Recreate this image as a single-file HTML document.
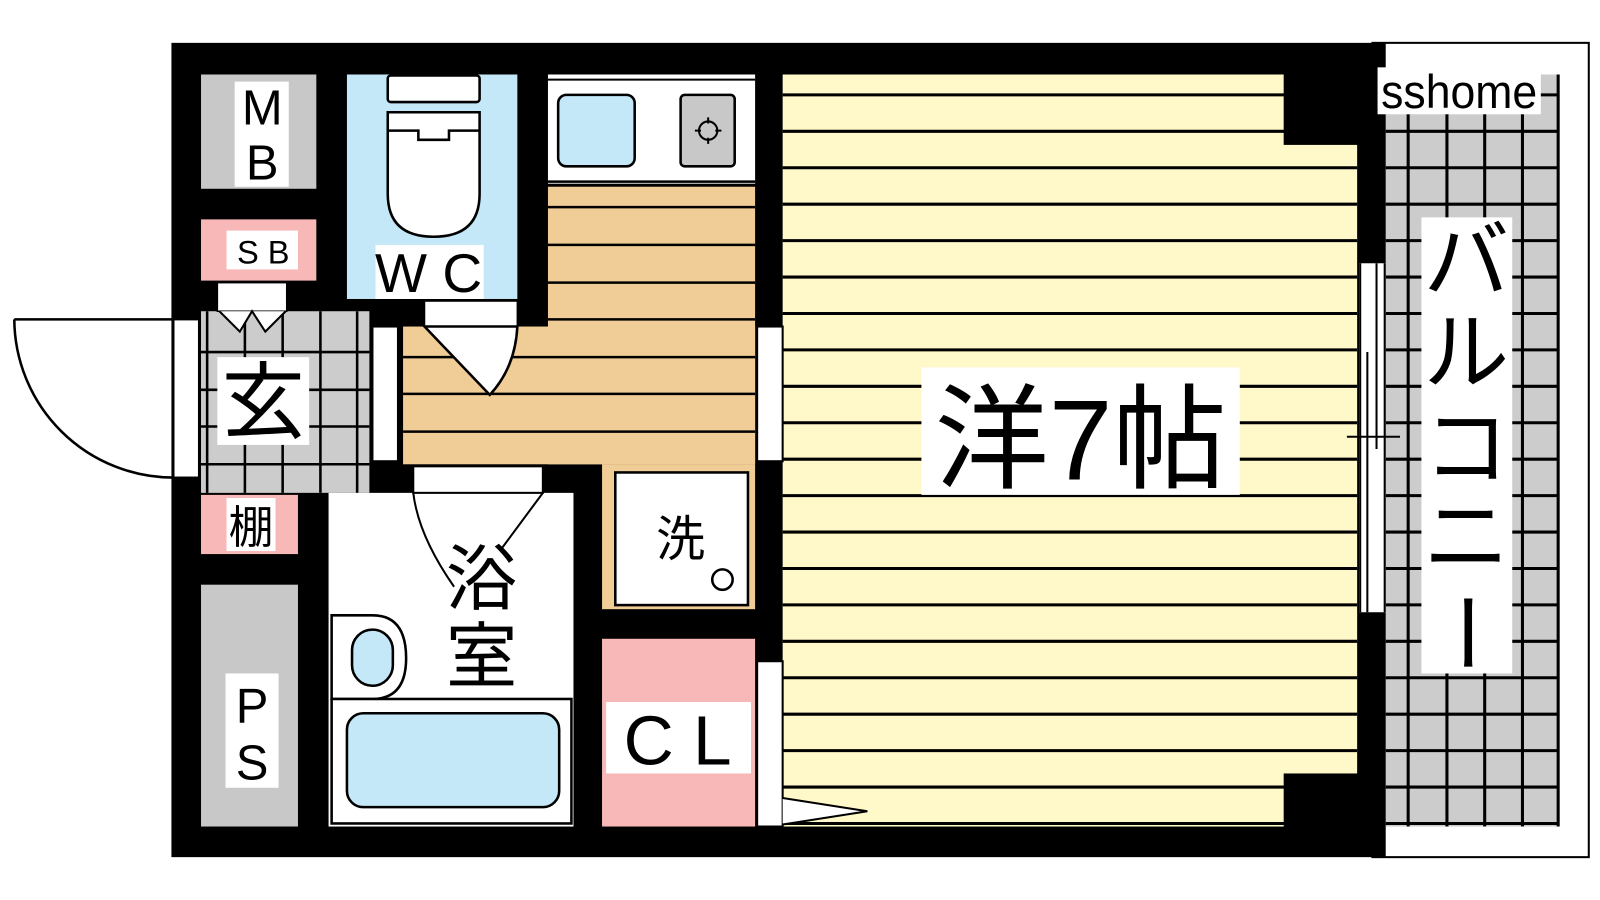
<!DOCTYPE html>
<html><head><meta charset="utf-8"><style>
html,body{margin:0;padding:0;background:#fff;width:1600px;height:900px;overflow:hidden}
svg text{font-family:"Liberation Sans","Noto Sans CJK JP",sans-serif;fill:#000}
</style></head><body>
<svg width="1600" height="900" viewBox="0 0 1568 882" xmlns="http://www.w3.org/2000/svg">
<!-- balcony -->
<rect x="1345" y="42" width="212" height="798" fill="#fff" stroke="#000" stroke-width="2"/>
<rect x="1358" y="73" width="170" height="737" fill="#cccccc"/>
<g stroke="#000" stroke-width="3">
<line x1="1380" y1="73" x2="1380" y2="810"/><line x1="1418" y1="73" x2="1418" y2="810"/>
<line x1="1455" y1="73" x2="1455" y2="810"/><line x1="1492" y1="73" x2="1492" y2="810"/>
<line x1="1527" y1="73" x2="1527" y2="810"/>
</g>
<g stroke="#000" stroke-width="3" id="bl"></g>
<!-- outer wall -->
<rect x="168" y="42" width="1190" height="798" fill="#000"/>
<!-- main room -->
<rect x="767" y="73" width="563" height="737" fill="#fff8c8"/>
<g stroke="#000" stroke-width="3" id="rl"></g>
<rect x="1258" y="60" width="74" height="82" fill="#000"/>
<rect x="1258" y="758" width="74" height="60" fill="#000"/>
<!-- window -->
<rect x="1332" y="258" width="26" height="342" fill="#fff"/>
<g stroke="#000" stroke-width="2">
<line x1="1333" y1="258" x2="1333" y2="600"/><line x1="1357" y1="258" x2="1357" y2="600"/>
<line x1="1340" y1="345" x2="1340" y2="600"/><line x1="1349" y1="258" x2="1349" y2="440"/>
<line x1="1320" y1="428" x2="1372" y2="428"/>
</g>
<!-- MB -->
<rect x="197" y="73" width="113" height="112" fill="#c8c8c8"/>
<rect x="230" y="80" width="53" height="103" fill="#fff"/>
<text x="257" y="122" font-size="48" text-anchor="middle">M</text>
<text x="257" y="176" font-size="48" text-anchor="middle">B</text>
<!-- SB -->
<rect x="197" y="215" width="113" height="60" fill="#f8b8b8"/>
<rect x="222" y="226" width="70" height="38" fill="#fff"/>
<text x="258" y="258" font-size="32" text-anchor="middle">S B</text>
<!-- genkan -->
<rect x="197" y="305" width="165" height="178" fill="#cccccc"/>
<g stroke="#000" stroke-width="2.5">
<line x1="203" y1="305" x2="203" y2="483"/><line x1="240" y1="305" x2="240" y2="483"/>
<line x1="277" y1="305" x2="277" y2="483"/><line x1="314" y1="305" x2="314" y2="483"/>
<line x1="350" y1="305" x2="350" y2="483"/>
<line x1="197" y1="345" x2="362" y2="345"/><line x1="197" y1="382" x2="362" y2="382"/>
<line x1="197" y1="418" x2="362" y2="418"/><line x1="197" y1="455" x2="362" y2="455"/>
</g>
<rect x="213" y="277" width="68" height="28" fill="#fff" stroke="#000" stroke-width="1.5"/>
<path d="M215 305 L235 325 L247 305 L260 325 L280 305" fill="#fff" stroke="#000" stroke-width="2"/>
<rect x="213" y="350" width="90" height="86" fill="#fff"/>
<text x="258" y="423" font-size="82" text-anchor="middle">玄</text>
<!-- entrance door -->
<rect x="170" y="313" width="25" height="155" fill="#fff" stroke="#000" stroke-width="2"/>
<path d="M14 313 L170 313 M14 313 A156 156 0 0 0 170 468" fill="none" stroke="#000" stroke-width="2.5"/>
<!-- 棚 -->
<rect x="197" y="485" width="95" height="58" fill="#f8b8b8"/>
<rect x="222" y="488" width="48" height="52" fill="#fff"/>
<text x="246" y="532" font-size="44" text-anchor="middle">棚</text>
<!-- PS -->
<rect x="197" y="573" width="95" height="237" fill="#c8c8c8"/>
<rect x="221" y="660" width="52" height="112" fill="#fff"/>
<text x="247" y="708" font-size="48" text-anchor="middle">P</text>
<text x="247" y="764" font-size="48" text-anchor="middle">S</text>
<!-- WC -->
<rect x="340" y="73" width="167" height="220" fill="#c4e8f8"/>
<rect x="380" y="74" width="90" height="26" rx="3" fill="#fff" stroke="#000" stroke-width="2.5"/>
<path d="M380 110 L470 110 L470 190 Q470 232 425 232 Q380 232 380 190 Z" fill="#fff" stroke="#000" stroke-width="2.5"/>
<path d="M380 128 L410 128 L410 137 L440 137 L440 128 L470 128" fill="none" stroke="#000" stroke-width="2.5"/>
<rect x="368" y="240" width="106" height="53" fill="#fff"/>
<text x="420" y="286" font-size="54" text-anchor="middle">W C</text>
<!-- kitchen counter -->
<rect x="537" y="73" width="203" height="107" fill="#fff"/>
<line x1="537" y1="78" x2="740" y2="78" stroke="#000" stroke-width="2"/>
<line x1="537" y1="178" x2="740" y2="178" stroke="#000" stroke-width="2.5"/>
<rect x="547" y="93" width="75" height="70" rx="8" fill="#c4e8f8" stroke="#000" stroke-width="2.5"/>
<rect x="667" y="93" width="53" height="70" rx="4" fill="#c8c8c8" stroke="#000" stroke-width="2.5"/>
<circle cx="694" cy="128" r="9" fill="none" stroke="#000" stroke-width="2"/>
<path d="M694 115v6M694 135v6M681 128h6M701 128h6" stroke="#000" stroke-width="2"/>
<!-- kitchen floor -->
<rect x="537" y="183" width="203" height="272" fill="#f0cc96"/>
<rect x="395" y="320" width="345" height="135" fill="#f0cc96"/>
<g stroke="#000" stroke-width="2.5">
<line x1="537" y1="203" x2="740" y2="203"/><line x1="537" y1="240" x2="740" y2="240"/>
<line x1="537" y1="277" x2="740" y2="277"/><line x1="537" y1="313" x2="740" y2="313"/>
<line x1="395" y1="350" x2="740" y2="350"/><line x1="395" y1="386" x2="740" y2="386"/>
<line x1="395" y1="423" x2="740" y2="423"/>
</g>
<!-- wc door -->
<rect x="416" y="295" width="91" height="25" fill="#fff" stroke="#000" stroke-width="1.5"/>
<path d="M416 320 L480 387 Q505 360 507 320 Z" fill="#fff" stroke="#000" stroke-width="2.5"/>
<!-- strips -->
<rect x="365" y="320" width="25" height="132" fill="#fff" stroke="#000" stroke-width="2"/>
<rect x="742" y="320" width="25" height="132" fill="#fff" stroke="#000" stroke-width="2"/>
<!-- bath -->
<rect x="322" y="483" width="240" height="327" fill="#fff"/>
<rect x="405" y="457" width="127" height="26" fill="#fff" stroke="#000" stroke-width="2"/>
<path d="M532 483 L492 537 M405 483 Q410 525 445 575" fill="none" stroke="#000" stroke-width="2"/>
<path d="M325 603 L365 603 Q398 603 398 645 Q398 685 365 685 L325 685 Z" fill="#fff" stroke="#000" stroke-width="2.5"/>
<rect x="345" y="617" width="40" height="55" rx="20" fill="#c4e8f8" stroke="#000" stroke-width="2.5"/>
<rect x="325" y="685" width="235" height="122" fill="#fff" stroke="#000" stroke-width="2.5"/>
<rect x="340" y="699" width="208" height="92" rx="16" fill="#c4e8f8" stroke="#000" stroke-width="2.5"/>
<text x="472" y="592" font-size="70" text-anchor="middle">浴</text>
<text x="472" y="668" font-size="70" text-anchor="middle">室</text>
<!-- washer -->
<rect x="590" y="455" width="150" height="142" fill="#f0cc96"/>
<rect x="603" y="463" width="130" height="130" fill="#fff" stroke="#000" stroke-width="2.5"/>
<text x="667" y="545" font-size="48" text-anchor="middle">洗</text>
<circle cx="708" cy="568" r="10" fill="none" stroke="#000" stroke-width="2.5"/>
<!-- CL -->
<rect x="590" y="626" width="150" height="184" fill="#f8b8b8"/>
<rect x="594" y="688" width="142" height="70" fill="#fff"/>
<text x="664" y="749" font-size="68" text-anchor="middle">C L</text>
<rect x="742" y="648" width="25" height="162" fill="#fff" stroke="#000" stroke-width="2"/>
<path d="M767 782 L850 795 L767 808" fill="#fff" stroke="#000" stroke-width="2"/>
<!-- room label -->
<rect x="903" y="360" width="312" height="125" fill="#fff"/>
<text x="1059" y="470" font-size="112" text-anchor="middle">洋7帖</text>
<!-- balcony labels -->
<rect x="1350" y="66" width="160" height="46" fill="#fff"/>
<text x="1430" y="106" font-size="46" text-anchor="middle" transform="translate(1430 0) scale(0.95 1) translate(-1430 0)">sshome</text>
<rect x="1393" y="213" width="89" height="447" fill="#fff"/>
<text x="1437" y="285" font-size="84" text-anchor="middle">バ</text>
<text x="1437" y="375" font-size="84" text-anchor="middle">ル</text>
<text x="1437" y="468" font-size="84" text-anchor="middle">コ</text>
<text x="1437" y="555" font-size="84" text-anchor="middle">ニ</text>
<text x="0" y="0" font-size="84" text-anchor="middle" transform="translate(1437 620) rotate(90) translate(0 30)">ー</text>
</svg>
<script>
(function(){
var ns="http://www.w3.org/2000/svg";
var rl=document.getElementById("rl"),bl=document.getElementById("bl");
for(var y=93;y<810;y+=35.7){
 var l=document.createElementNS(ns,"line");l.setAttribute("x1",767);l.setAttribute("x2",1330);l.setAttribute("y1",y);l.setAttribute("y2",y);rl.appendChild(l);
 var b=document.createElementNS(ns,"line");b.setAttribute("x1",1358);b.setAttribute("x2",1528);b.setAttribute("y1",y);b.setAttribute("y2",y);bl.appendChild(b);
}})();
</script>
</body></html>
